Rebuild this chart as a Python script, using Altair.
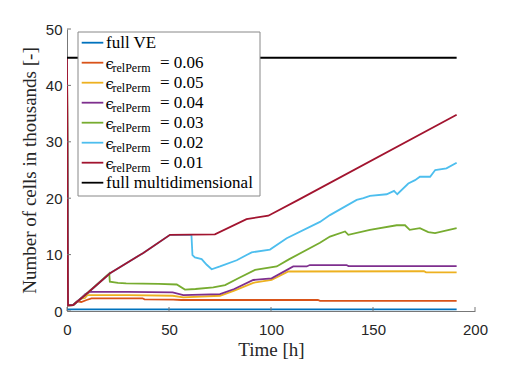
import altair as alt
import pandas as pd

# ---- data (time in hours, cells in thousands) ----
t_ve = [0, 191]
v_ve = [0.3, 0.3]

t_full = [0, 191]
v_full = [44.9, 44.9]

t_006 = [0, 0.5, 3, 5, 7, 9.6, 12, 37, 38, 52, 56, 123, 124, 191]
v_006 = [44.9, 1.0, 1.06, 1.7, 1.6, 1.95, 2.25, 2.25, 2.07, 2.0, 1.95, 1.95, 1.8, 1.8]

t_005 = [0, 0.5, 3, 7, 8.8, 10, 30, 51.8, 57, 75, 82, 91.3, 100.3, 108.5, 175, 176, 191]
v_005 = [44.9, 1.0, 1.06, 2.2, 2.3, 2.8, 2.8, 2.7, 2.4, 2.7, 3.6, 5.0, 5.5, 7.0, 7.05, 6.85, 6.85]

t_004 = [0, 0.5, 3, 7, 9, 11.3, 30, 51.8, 57, 75, 82, 91.3, 100.3, 110.9, 117.5, 119, 137, 138, 191]
v_004 = [44.9, 1.0, 1.06, 2.3, 3.0, 3.4, 3.4, 3.3, 2.8, 3.0, 3.9, 5.5, 5.8, 7.9, 7.9, 8.15, 8.15, 7.95, 7.95]

t_003 = [0, 0.5, 3, 8.8, 20.7, 21, 25, 29, 45, 53.8, 57.8, 63, 71.7, 77.5, 84, 92.2, 102.8, 109, 124, 128.9,
         136.3, 137.9, 148.5, 161.6, 165.7, 168, 173, 177.1, 180.4, 191]
v_003 = [44.9, 1.0, 1.06, 2.8, 6.65, 5.2, 5.0, 4.9, 4.8, 4.7, 3.8, 3.9, 4.2, 4.6, 5.8, 7.3, 7.9, 9.2, 12.1, 13.2,
         14.1, 13.5, 14.4, 15.2, 15.2, 14.4, 14.7, 14.0, 13.8, 14.7]

t_002 = [0, 0.5, 3, 8.8, 21.1, 37.4, 50.5, 61.0, 61.5, 62.7, 66, 68.5, 70.9, 75, 83.2, 90.5, 99.5, 107.7,
         124, 128.9, 142, 145.3, 148.5, 156.7, 160.3, 161.9, 167.3, 170.6, 173, 178, 180.5, 186, 191]
v_002 = [44.9, 1.0, 1.06, 2.8, 6.7, 10.3, 13.5, 13.5, 9.9, 9.5, 9.2, 8.2, 7.4, 7.9, 9.0, 10.4, 10.9, 12.9,
         15.8, 17.0, 19.7, 20.0, 20.4, 20.7, 21.3, 20.7, 22.6, 23.2, 23.8, 23.8, 25.0, 25.3, 26.3]

t_001 = [0, 0.5, 3, 8.8, 21.1, 37.4, 50.5, 72.5, 88, 98.7, 113.4, 191]
v_001 = [44.9, 1.0, 1.06, 2.8, 6.7, 10.3, 13.5, 13.6, 16.3, 16.9, 19.7, 34.8]

series = [
    ("full VE", t_ve, v_ve, "#0072BD"),
    ("0.06", t_006, v_006, "#D95319"),
    ("0.05", t_005, v_005, "#EDB120"),
    ("0.04", t_004, v_004, "#7E2F8E"),
    ("0.03", t_003, v_003, "#77AC30"),
    ("0.02", t_002, v_002, "#4DBEEE"),
    ("0.01", t_001, v_001, "#A2142F"),
    ("full multidimensional", t_full, v_full, "#000000"),
]

x_ticks = [0, 50, 100, 150, 200]
y_ticks = [0, 10, 20, 30, 40, 50]

W, H = 408, 282
SERIF = "Liberation Serif"
SANS = "Liberation Sans"
AX = "#777777"

xscale = alt.Scale(domain=[0, 200], nice=False)
yscale = alt.Scale(domain=[0, 50], nice=False)

xaxis = alt.Axis(values=x_ticks, grid=False, ticks=False, tickSize=0, domainColor=AX, domainWidth=1,
                 labelFont=SANS, labelFontSize=15, labelColor="#262626", labelPadding=11, labelFlush=False,
                 title="Time [h]", titleFont=SERIF, titleFontSize=19, titleFontWeight="normal",
                 titleColor="#262626", titleY=44, titleBaseline="alphabetic")
yaxis = alt.Axis(values=y_ticks, grid=False, ticks=False, tickSize=0, domainColor=AX, domainWidth=1,
                 labelFont=SANS, labelFontSize=15, labelColor="#262626", labelPadding=5, labelFlush=False,
                 title="Number of cells in thousands [-]", titleFont=SERIF, titleFontSize=19,
                 titleFontWeight="normal", titleColor="#262626", titleX=-38, titleBaseline="middle")

layers = []
for i, (name, t, v, col) in enumerate(series):
    df = pd.DataFrame({"t": t, "v": v})
    layers.append(alt.Chart(df).mark_line(color=col, strokeWidth=1.8, clip=True).encode(
        x=alt.X("t:Q", scale=xscale, axis=xaxis),
        y=alt.Y("v:Q", scale=yscale, axis=yaxis)))

# inward ticks (MATLAB style)
xt = alt.Chart(pd.DataFrame({"t": x_ticks})).mark_rule(color=AX, strokeWidth=1).encode(
    x=alt.X("t:Q", scale=xscale, axis=xaxis), y=alt.value(H), y2=alt.value(H - 4))
yt = alt.Chart(pd.DataFrame({"v": y_ticks})).mark_rule(color=AX, strokeWidth=1).encode(
    y=alt.Y("v:Q", scale=yscale, axis=yaxis), x=alt.value(0), x2=alt.value(4))
layers += [xt, yt]

# legend (custom, to allow the subscript)
one = pd.DataFrame({"a": [0]})
layers.append(alt.Chart(one).mark_rect(fill="white", stroke="#888888", strokeWidth=1).encode(
    x=alt.value(11), x2=alt.value(193), y=alt.value(3), y2=alt.value(167)))
for i, (name, t, v, col) in enumerate(series):
    yc = 13.7 + 20 * i
    layers.append(alt.Chart(one).mark_rule(color=col, strokeWidth=1.8).encode(
        x=alt.value(14.7), x2=alt.value(36.3), y=alt.value(yc)))
    if name.startswith("full"):
        layers.append(alt.Chart(one).mark_text(text=name, font=SERIF, fontSize=17, align="left",
                                               baseline="middle", color="black").encode(
            x=alt.value(39), y=alt.value(yc)))
    else:
        layers.append(alt.Chart(one).mark_text(text="\u03f5", font="DejaVu Serif", fontSize=15, align="left",
                                               baseline="middle", color="black").encode(
            x=alt.value(38.5), y=alt.value(yc + 1)))
        layers.append(alt.Chart(one).mark_text(text="relPerm", font=SERIF, fontSize=12, align="left",
                                               baseline="middle", color="black").encode(
            x=alt.value(45.5), y=alt.value(yc + 5)))
        layers.append(alt.Chart(one).mark_text(text="= " + name, font=SERIF, fontSize=17, align="left",
                                               baseline="middle", color="black").encode(
            x=alt.value(93), y=alt.value(yc)))

chart = alt.layer(*layers).properties(
    width=W, height=H, autosize=alt.AutoSizeParams(type="none"), background="white",
    padding={"left": 59, "top": 21, "right": 40, "bottom": 56},
).configure_view(stroke=None)

chart.save("out.html", embed_options={"renderer": "svg", "actions": False})
